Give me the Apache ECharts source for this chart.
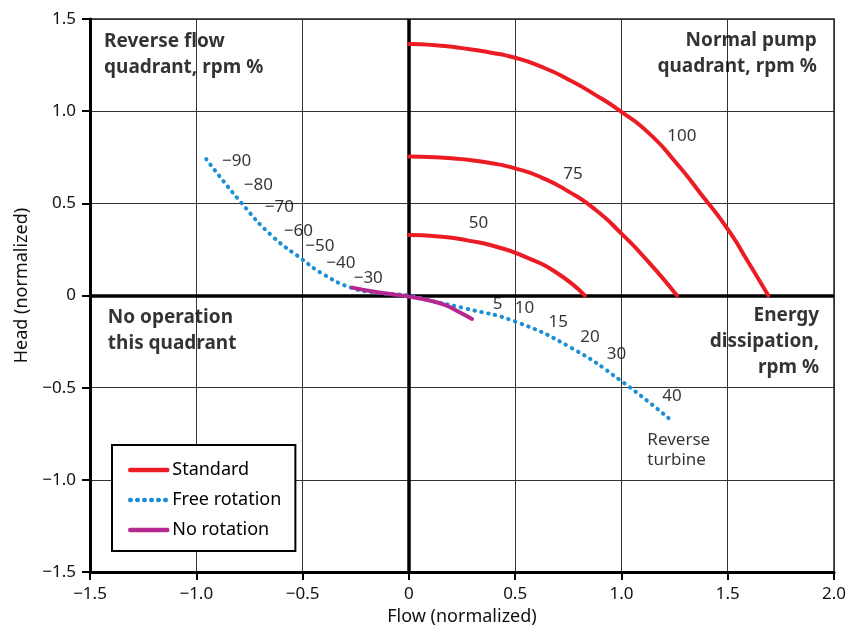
<!DOCTYPE html>
<html>
<head>
<meta charset="utf-8">
<script src="https://cdn.jsdelivr.net/npm/echarts@6/dist/echarts.min.js"></script>
<style>html,body{margin:0;padding:0;background:#fff;}#chart{width:849px;height:631px;}</style>
</head>
<body>
<div id="chart"></div>
<script>
// ---- data ----
var xMin = -1.5, xMax = 2.0, yMin = -1.5, yMax = 1.5, step = 0.5;
var xTickLabels = ['\u22121.5','\u22121.0','\u22120.5','0','0.5','1.0','1.5','2.0'];
var yTickLabels = ['\u22121.5','\u22121.0','\u22120.5','0','0.5','1.0','1.5'];

var std100Flow = [0, 0.125, 0.25, 0.375, 0.5, 0.625, 0.75, 0.875, 1.0, 1.125, 1.25, 1.375, 1.5, 1.597, 1.691];
var std100Head = [1.364, 1.358, 1.342, 1.32, 1.29, 1.24, 1.172, 1.09, 0.996, 0.885, 0.73, 0.55, 0.36, 0.181, 0];
var std75Flow = [0, 0.125, 0.25, 0.375, 0.5, 0.625, 0.75, 0.875, 1.0, 1.125, 1.261];
var std75Head = [0.754, 0.75, 0.74, 0.72, 0.69, 0.64, 0.565, 0.468, 0.336, 0.185, 0];
var std50Flow = [0, 0.14, 0.28, 0.42, 0.55, 0.69, 0.828];
var std50Head = [0.328, 0.32, 0.298, 0.262, 0.208, 0.128, 0];

var freeFlow = [-0.953, -0.789, -0.645, -0.5, -0.406, -0.273, -0.15, 0, 0.109, 0.266, 0.5, 0.766, 1.0, 1.227];
var freeHead = [0.740, 0.504, 0.325, 0.195, 0.118, 0.043, 0.015, 0, -0.03, -0.07, -0.141, -0.285, -0.464, -0.670];

var noRotFlow = [-0.266, -0.14, 0, 0.109, 0.172, 0.234, 0.297];
var noRotHead = [0.043, 0.016, -0.005, -0.03, -0.052, -0.088, -0.127];

// rpm % annotations (data coordinates)
var rpmLabelText = ['\u221290','\u221280','\u221270','\u221260','\u221250','\u221240','\u221230','5','10','15','20','30','40','100','75','50'];
var rpmLabelFlow = [-0.810, -0.708, -0.609, -0.520, -0.419, -0.320, -0.191, 0.417, 0.544, 0.703, 0.852, 0.977, 1.238, 1.284, 0.772, 0.328];
var rpmLabelHead = [0.727, 0.597, 0.477, 0.351, 0.267, 0.176, 0.095, -0.048, -0.070, -0.145, -0.224, -0.317, -0.547, 0.866, 0.661, 0.392];

var quadLeftText = ['Reverse flow\nquadrant, rpm %', 'No operation\nthis quadrant'];
var quadLeftFlow = [-1.434, -1.416];
var quadLeftHead = [1.309, -0.191];
var quadRightText = ['Normal pump\nquadrant, rpm %', 'Energy\ndissipation,\nrpm %'];
var quadRightFlow = [1.919, 1.930];
var quadRightHead = [1.310, -0.252];
var noteText = ['Reverse\nturbine'];
var noteFlow = [1.122];
var noteHead = [-0.841];

var seriesNames = ['Standard', 'Free rotation', 'No rotation'];

// ---- helpers ----
function pairs(xs, ys) { return xs.map(function (x, i) { return [x, ys[i]]; }); }
function labelled(xs, ys, ts) { return xs.map(function (x, i) { return [x, ys[i], ts[i]]; }); }

var FONT = '"Noto Sans", "Liberation Sans", Arial, sans-serif';
var RED = '#ec1c24', BLUE = '#1a8fd8', PURPLE = '#b5288f';

function redSeries(flow, head) {
  return {
    name: 'Standard', type: 'line', data: pairs(flow, head), smooth: 0.6,
    symbol: 'none', z: 5,
    lineStyle: { color: RED, width: 4, cap: 'round' },
    itemStyle: { color: RED }
  };
}
function textSeries(data, align, size, weight, lh) {
  return {
    type: 'scatter', data: data, symbolSize: 0, silent: true, z: 10,
    label: {
      show: true, position: 'inside', align: align, verticalAlign: 'middle',
      formatter: function (p) { return p.data[2]; },
      color: '#000', fontSize: size, fontWeight: weight, fontFamily: FONT, lineHeight: lh
    },
    tooltip: { show: false }
  };
}

var chart = echarts.init(document.getElementById('chart'), null, { renderer: 'canvas' });
var option = {
  animation: false,
  backgroundColor: '#fff',
  grid: { left: 90, right: 12, top: 19, bottom: 55, show: true, borderColor: '#222', borderWidth: 1.5, backgroundColor: 'transparent' },
  legend: {
    data: seriesNames, orient: 'vertical', left: 112, top: 445,
    backgroundColor: '#fff', borderColor: '#000', borderWidth: 2, borderRadius: 0,
    padding: [16, 14, 12, 16], itemGap: 12, itemWidth: 37, itemHeight: 14,
    itemStyle: { opacity: 0 },
    lineStyle: { width: 4.5 },
    textStyle: { fontFamily: FONT, fontSize: 18, color: '#000' }
  },
  xAxis: {
    type: 'value', min: xMin, max: xMax, interval: step,
    name: 'Flow (normalized)', nameLocation: 'middle', nameGap: 34,
    nameTextStyle: { fontFamily: FONT, fontSize: 18, color: '#111' },
    axisLine: { show: true, onZero: false, lineStyle: { color: '#000', width: 3 } },
    axisTick: { show: true, length: 8, lineStyle: { color: '#000', width: 2 } },
    axisLabel: { margin: 14, fontFamily: FONT, fontSize: 17, color: '#111',
      formatter: function (v) { return xTickLabels[Math.round((v - xMin) / step)]; } },
    splitLine: { show: true, lineStyle: { color: '#333', width: 1 } }
  },
  yAxis: {
    type: 'value', min: yMin, max: yMax, interval: step,
    name: 'Head (normalized)', nameLocation: 'middle', nameGap: 56,
    nameTextStyle: { fontFamily: FONT, fontSize: 18, color: '#111', padding: [0, 0, 0, 20] },
    axisLine: { show: true, onZero: false, lineStyle: { color: '#000', width: 3 } },
    axisTick: { show: true, length: 8, lineStyle: { color: '#000', width: 2 } },
    axisLabel: { margin: 14, fontFamily: FONT, fontSize: 17, color: '#111',
      formatter: function (v) { return yTickLabels[Math.round((v - yMin) / step)]; } },
    splitLine: { show: true, lineStyle: { color: '#333', width: 1 } }
  },
  series: [
    {
      type: 'line', data: [], silent: true, z: 3,
      markLine: {
        silent: true, symbol: 'none', animation: false,
        label: { show: false },
        lineStyle: { color: '#000', width: 3.5, type: 'solid' },
        data: [{ xAxis: 0 }, { yAxis: 0 }]
      }
    },
    redSeries(std100Flow, std100Head),
    redSeries(std75Flow, std75Head),
    redSeries(std50Flow, std50Head),
    {
      name: 'Free rotation', type: 'line', data: pairs(freeFlow, freeHead), smooth: 0.5,
      symbol: 'none', z: 6,
      lineStyle: { color: BLUE, width: 4, type: [0.5, 6.5], cap: 'round' },
      itemStyle: { color: BLUE }
    },
    {
      name: 'No rotation', type: 'line', data: pairs(noRotFlow, noRotHead), smooth: 0.5,
      symbol: 'none', z: 7,
      lineStyle: { color: PURPLE, width: 4, cap: 'round' },
      itemStyle: { color: PURPLE }
    },
    textSeries(labelled(rpmLabelFlow, rpmLabelHead, rpmLabelText), 'center', 17, 'normal', 20),
    textSeries(labelled(noteFlow, noteHead, noteText), 'left', 17, 'normal', 20),
    textSeries(labelled(quadLeftFlow, quadLeftHead, quadLeftText), 'left', 19, 'bold', 26),
    textSeries(labelled(quadRightFlow, quadRightHead, quadRightText), 'right', 19, 'bold', 26)
  ]
};
chart.setOption(option);
</script>
</body>
</html>
